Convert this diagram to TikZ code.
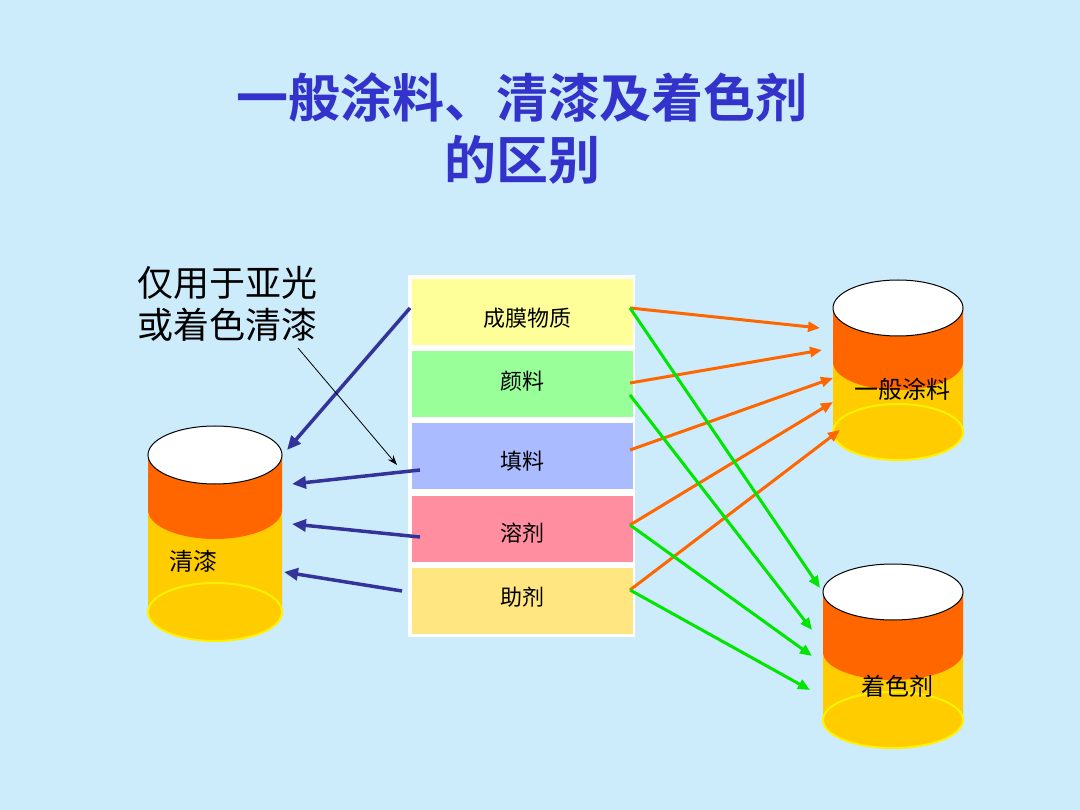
\documentclass[tikz,border=0pt]{standalone}
\usepackage{fontspec}
\setmainfont{Noto Sans CJK SC}
\newfontfamily\cjkb{Noto Sans CJK SC Bold}
\definecolor{bg}{RGB}{204,236,252}
\definecolor{ttl}{RGB}{51,51,204}
\definecolor{darr}{RGB}{51,51,153}
\definecolor{oarr}{RGB}{255,102,0}
\definecolor{garr}{RGB}{0,230,0}
\definecolor{band}{RGB}{255,102,0}
\definecolor{body}{RGB}{255,204,0}
\definecolor{c1}{RGB}{255,255,153}
\definecolor{c2}{RGB}{153,255,153}
\definecolor{c3}{RGB}{170,187,255}
\definecolor{c4}{RGB}{255,143,160}
\definecolor{c5}{RGB}{255,230,128}
\usetikzlibrary{arrows.meta}
\tikzset{
 cell/.style={draw=white,line width=2pt,minimum width=223pt,minimum height=68pt,anchor=north west,inner sep=0pt},
 lbl/.style={font=\fontsize{22}{22}\selectfont},
 barr/.style={draw=darr,line width=3.5pt,-{Triangle[length=14pt,width=12pt]}},
 oa/.style={draw=oarr,line width=3pt,-{Triangle[length=12pt,width=10pt]}},
 ga/.style={draw=garr,line width=3pt,-{Triangle[length=12pt,width=10pt]}},
}
\newcommand{\cyl}[6]{% cx, w/2, ytop, yband, ybot, ry
 \fill[body] (#1-#2,#3) -- (#1-#2,#5) arc[start angle=180,end angle=360,x radius=#2,y radius=-#6] -- (#1+#2,#3) -- cycle;
 \draw[yellow,line width=2pt] (#1,#5) ellipse[x radius=#2,y radius=#6];
 \fill[band] (#1-#2,#3) -- (#1-#2,#4) arc[start angle=180,end angle=360,x radius=#2,y radius=-#6] -- (#1+#2,#3) -- cycle;
 \draw[fill=white,line width=1pt] (#1,#3) ellipse[x radius=#2,y radius=#6];
}
\begin{document}
\begin{tikzpicture}[x=1pt,y=-1pt]
\fill[bg] (0,0) rectangle (1080,810);
\useasboundingbox (0,0) rectangle (1080,810);
\node[text=ttl,font=\cjkb\fontsize{52}{52}\selectfont] (t1) at (522,97) {一般涂料、清漆及着色剂};
\node[text=ttl,font=\cjkb\fontsize{52}{52}\selectfont] (t2) at (522,160) {的区别};
\node[font=\fontsize{36}{42}\selectfont,align=left,anchor=north west,inner sep=0pt] (note) at (137,266) {仅用于亚光\\或着色清漆};
\fill[white] (408,275) rectangle (635,637);
\node[cell,fill=c1] (a) at (410,277) {};
\node[cell,fill=c2] (b) at (410,349) {};
\node[cell,fill=c3] (c) at (410,421) {};
\node[cell,fill=c4] (d) at (410,494) {};
\node[cell,fill=c5] (e) at (410,566) {};
\node[lbl] (la) at (527,318) {成膜物质};
\node[lbl] (lb) at (522,381) {颜料};
\node[lbl] (lc) at (522,461) {填料};
\node[lbl] (ld) at (522,533) {溶剂};
\node[lbl] (le) at (522,597) {助剂};
\cyl{215}{67}{455}{510}{612}{29}
\cyl{898}{65}{308}{362}{432}{28}
\cyl{893}{70}{592}{652}{720}{28}
\node[font=\fontsize{24}{24}\selectfont] (lq) at (193,561) {清漆};
\node[font=\fontsize{24}{24}\selectfont] (ly) at (902,389) {一般涂料};
\node[font=\fontsize{24}{24}\selectfont] (lz) at (897,686) {着色剂};
\coordinate (q1) at (287,450); \coordinate (q2) at (292,484);
\coordinate (q3) at (292,524); \coordinate (q4) at (284,572);
\coordinate (s1) at (410,308); \coordinate (s2) at (420,470);
\coordinate (s3) at (420,537); \coordinate (s4) at (402,591);
\draw[barr] (s1) -- (q1);
\draw[barr] (s2) -- (q2);
\draw[barr] (s3) -- (q3);
\draw[barr] (s4) -- (q4);
\coordinate (n1) at (298,348); \coordinate (n2) at (397,465);
\draw[line width=0.8pt,-{Stealth[length=10pt,width=7pt]}] (n1) -- (n2);
\coordinate (y1) at (820,328); \coordinate (y2) at (822,350);
\coordinate (y3) at (833,378); \coordinate (y4) at (833,402);
\coordinate (y5) at (840,430);
\coordinate (z1) at (820,588); \coordinate (z2) at (812,630);
\coordinate (z3) at (812,656); \coordinate (z4) at (810,690);
\coordinate (pa) at (630,308); \coordinate (pb) at (630,383); \coordinate (pb2) at (630,395);
\coordinate (pc) at (630,450); \coordinate (pd) at (630,525); \coordinate (pe) at (630,590);
\draw[oa] (pa) -- (y1); \draw[oa] (pb) -- (y2); \draw[oa] (pc) -- (y3);
\draw[oa] (pd) -- (y4); \draw[oa] (pe) -- (y5);
\draw[ga] (pa) -- (z1); \draw[ga] (pb2) -- (z2); \draw[ga] (pd) -- (z3); \draw[ga] (pe) -- (z4);
\end{tikzpicture}
\end{document}
